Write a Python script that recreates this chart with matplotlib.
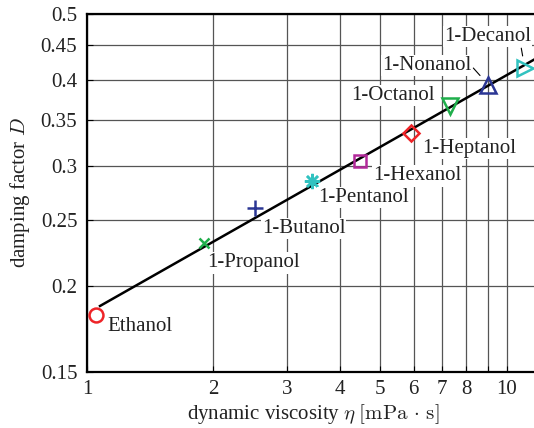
import numpy as np
import matplotlib
matplotlib.use('Agg')
import matplotlib.pyplot as plt
from matplotlib.ticker import FixedLocator, NullLocator

plt.rcParams['font.family'] = ['Liberation Serif', 'DejaVu Serif']
plt.rcParams['mathtext.fontset'] = 'cm'
plt.rcParams['font.size'] = 15

# data
alcohols = ['Ethanol', '1-Propanol', '1-Butanol', '1-Pentanol', '1-Hexanol',
            '1-Heptanol', '1-Octanol', '1-Nonanol', '1-Decanol']
viscosity = [1.05, 1.90, 2.51, 3.43, 4.47, 5.93, 7.34, 9.04, 11.04]
damping = [0.182, 0.2315, 0.260, 0.2855, 0.305, 0.335, 0.367, 0.394, 0.4166]

# power-law fit D = a * eta^b
fit_a = 0.1827
fit_b = 0.348
fit_range = [1.074, 12.0]

x_ticks = [1, 2, 3, 4, 5, 6, 7, 8, 9, 10]
x_tick_labels = ['1', '2', '3', '4', '5', '6', '7', '8', '', '10']
y_ticks = [0.15, 0.2, 0.25, 0.3, 0.35, 0.4, 0.45, 0.5]
y_tick_labels = ['0.15', '0.2', '0.25', '0.3', '0.35', '0.4', '0.45', '0.5']

# marker styles
red = '#ee2428'
green = '#1fae4b'
blue = '#2b3694'
cyan = '#31c2c0'
magenta = '#b2299a'
styles = [('o', red, 10), ('x', green, 7), ('+', blue, 11), ((8, 2, 0), cyan, 11),
          ('s', magenta, 9), ('D', red, 8), ('v', green, 11), ('^', blue, 11),
          ('>', cyan, 11)]

# label placement (offset in pixels, alignment, leader line)
label_pos = [((11, -12), 'left', False), ((3, -20), 'left', False),
             ((7, -20), 'left', False), ((6, -17), 'left', False),
             ((13, -15), 'left', False), ((11, -15), 'left', False),
             ((-16, 10), 'right', False), ((-17, 19), 'right', True),
             ((-37, 32), 'center', True)]

fig = plt.figure(figsize=(5.34, 4.28), dpi=100)
ax = fig.add_axes([87 / 534, 56 / 428, (540 - 87) / 534, 358 / 428])
ax.set_xscale('log')
ax.set_yscale('log')
ax.set_xlim(1, 12)
ax.set_ylim(0.15, 0.5)

ax.xaxis.set_major_locator(FixedLocator(x_ticks))
ax.xaxis.set_minor_locator(NullLocator())
ax.set_xticklabels(x_tick_labels)
ax.yaxis.set_major_locator(FixedLocator(y_ticks))
ax.yaxis.set_minor_locator(NullLocator())
ax.set_yticklabels(y_tick_labels)
ax.tick_params(direction='in', length=4, width=0.8, colors='black',
               labelcolor='#222222', labelsize=15)
ax.tick_params(axis='y', pad=7)
ax.tick_params(axis='x', pad=6)

ax.grid(True, color='#555555', linewidth=0.9)
ax.set_axisbelow(True)
for side in ['left', 'bottom', 'top']:
    ax.spines[side].set_linewidth(1.6)
ax.spines['right'].set_visible(False)

eta = np.geomspace(fit_range[0], fit_range[1], 100)
ax.plot(eta, fit_a * eta ** fit_b, color='black', lw=1.8, zorder=4)

for name, x, y, (m, c, s), (off, ha, leader) in zip(alcohols, viscosity, damping,
                                                    styles, label_pos):
    ax.plot(x, y, marker=m, ms=s, mfc='none', mec=c, mew=1.8,
            linestyle='none', zorder=5)
    arrow = None
    if leader:
        arrow = dict(arrowstyle='-', color='black', lw=0.8,
                     shrinkA=1, shrinkB=9,
                     relpos=(1.0, 0.5) if ha == 'right' else (0.88, 0.0))
    ax.annotate(name, (x, y), xytext=off, textcoords='offset pixels',
                ha=ha, va='center', fontsize=15, color='#222222', zorder=6,
                bbox=dict(boxstyle='square,pad=0.05', fc='white', ec='none'),
                arrowprops=arrow)

ax.set_xlabel(r'dynamic viscosity $\eta\;[\mathrm{mPa}\,\cdot\,\mathrm{s}]$',
              fontsize=15, color='#222222', labelpad=2)
ax.set_ylabel(r'damping factor $D$', fontsize=15, color='#222222', labelpad=6)

fig.savefig('out.png', dpi=100)
